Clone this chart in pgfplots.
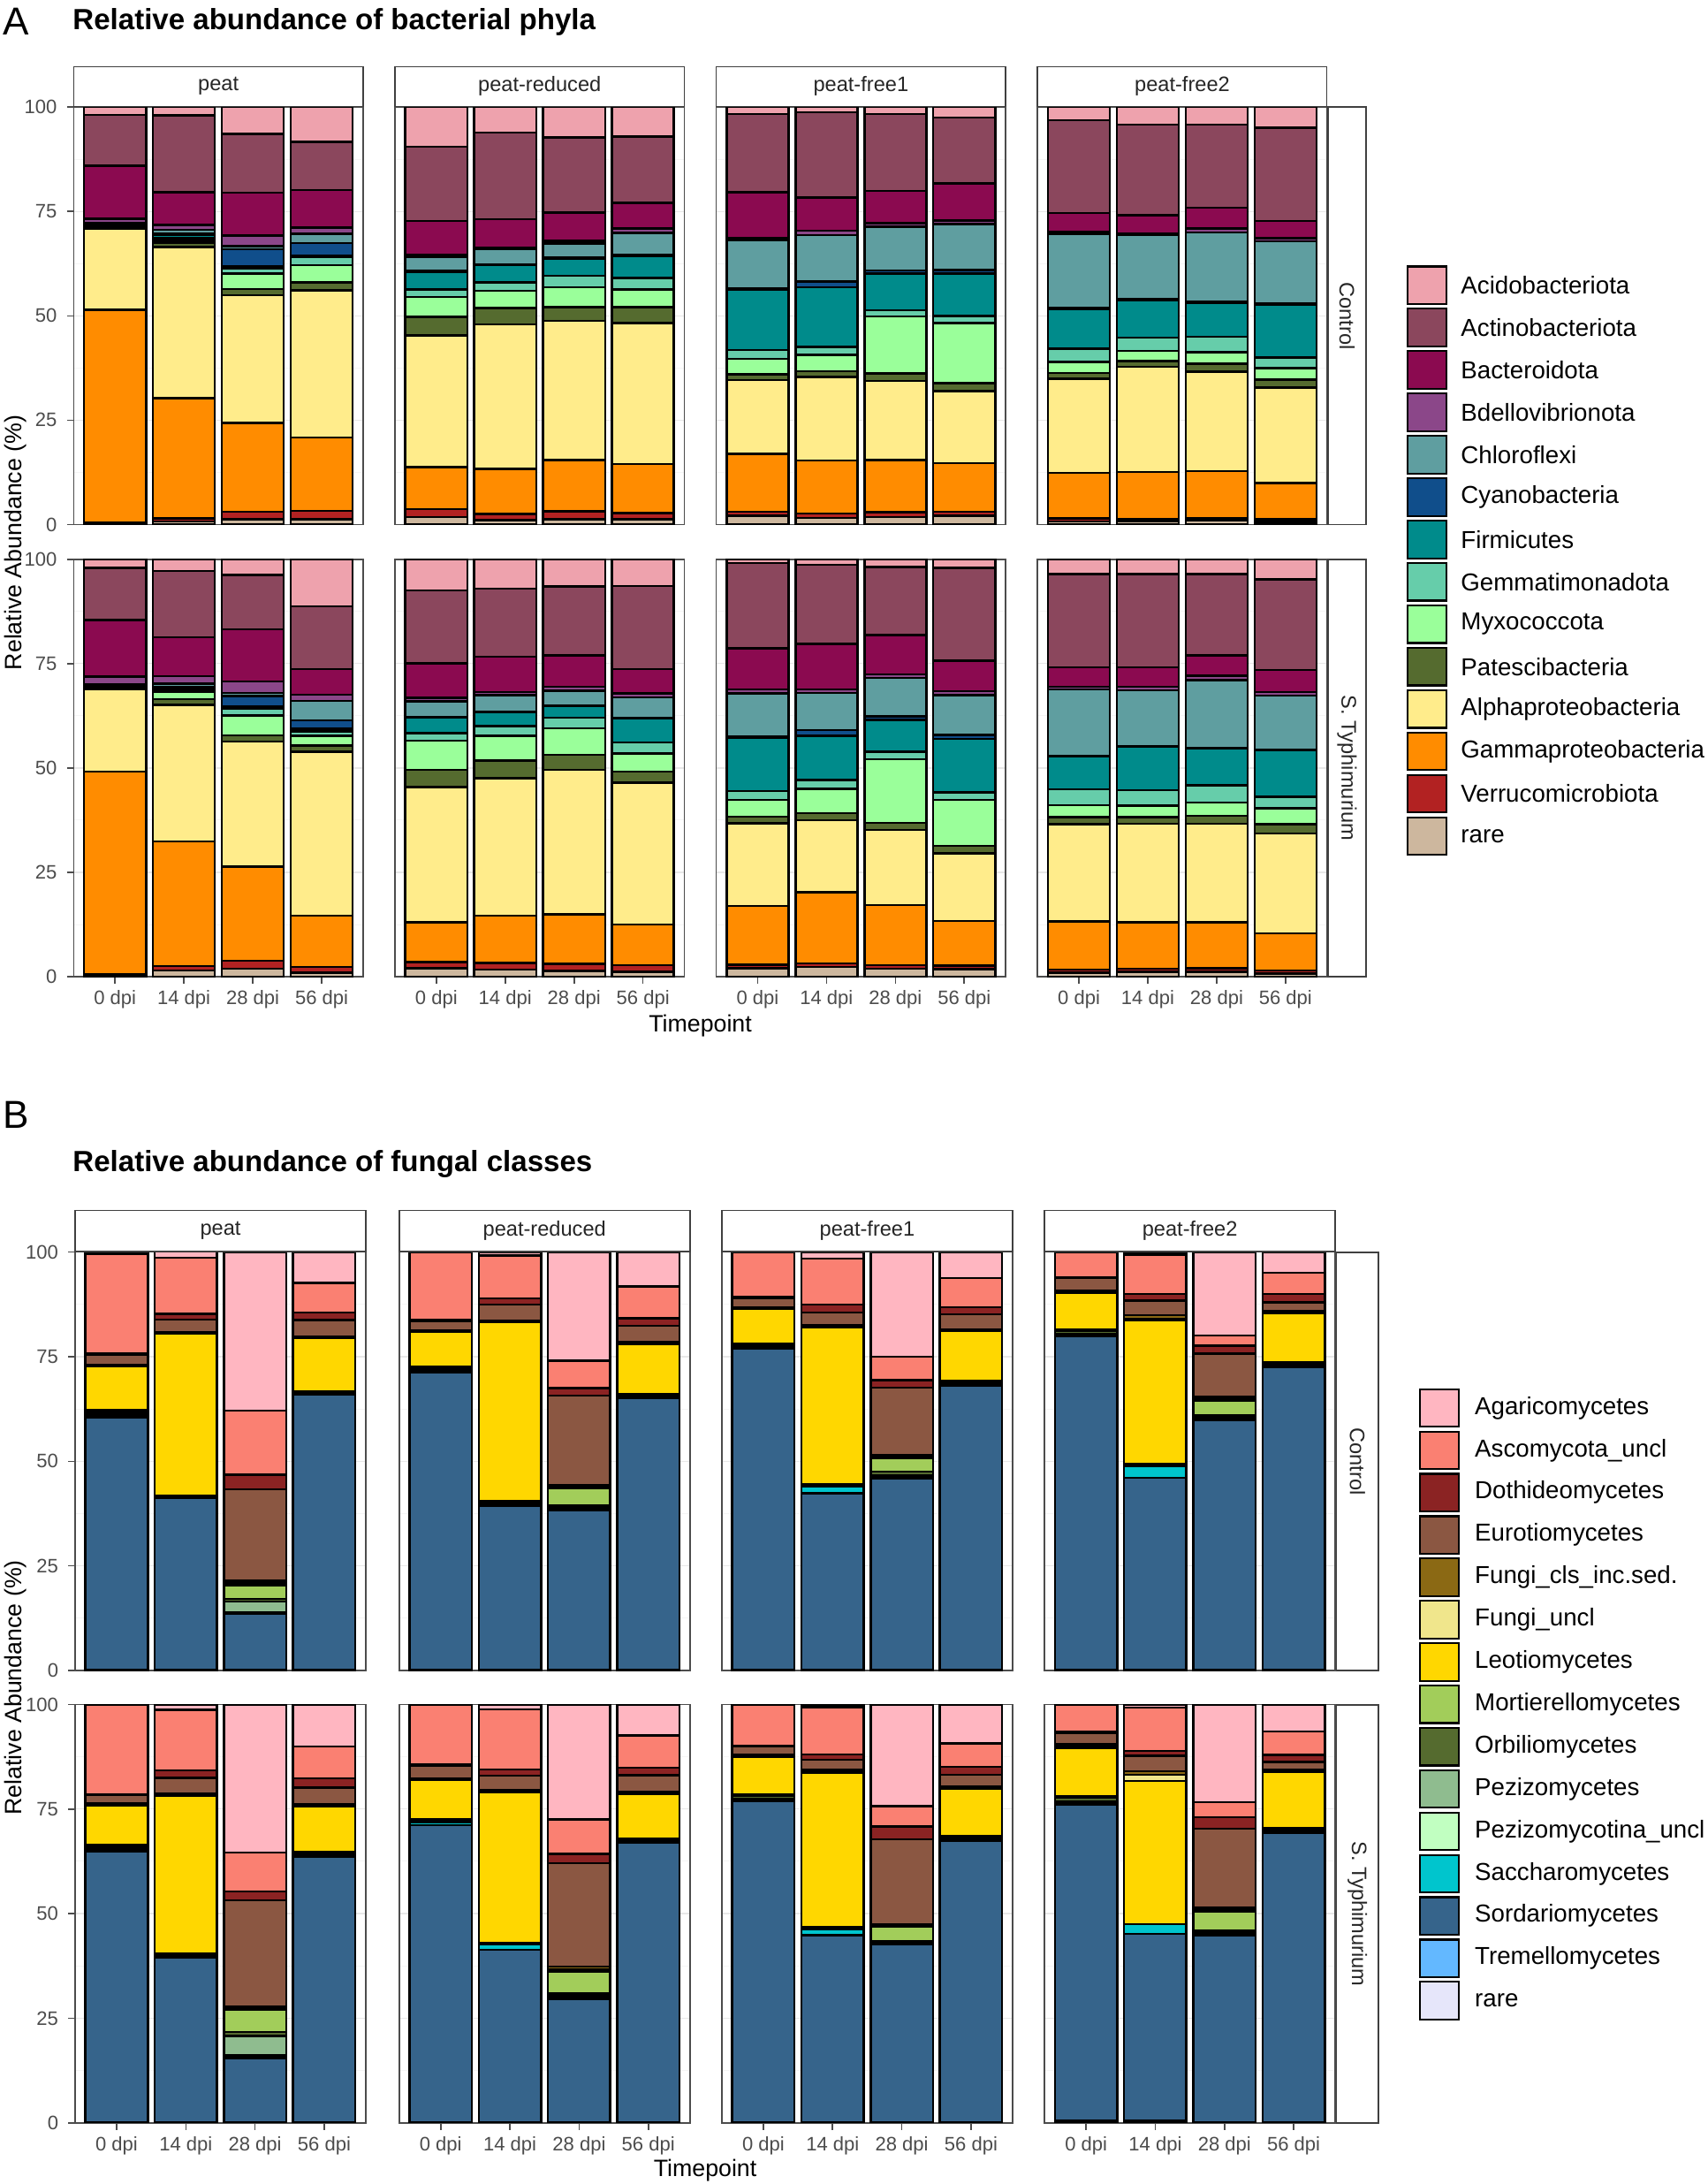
\documentclass[border=0pt]{standalone}
\usepackage{fontspec}
\setmainfont{Liberation Sans}
\usepackage{graphicx}
\usepackage{pgfplots}
\usepackage{pgfplotstable}
\pgfplotsset{compat=1.18}

% bacterial colours
\definecolor{cAci}{HTML}{EEA2AD}
\definecolor{cAct}{HTML}{8B475D}
\definecolor{cBac}{HTML}{8B0A50}
\definecolor{cBde}{HTML}{8B4789}
\definecolor{cChl}{HTML}{5F9EA0}
\definecolor{cCya}{HTML}{104E8B}
\definecolor{cFir}{HTML}{008B8B}
\definecolor{cGem}{HTML}{66CDAA}
\definecolor{cMyx}{HTML}{9AFF9A}
\definecolor{cPat}{HTML}{556B2F}
\definecolor{cAlp}{HTML}{FFEC8B}
\definecolor{cGam}{HTML}{FF8C00}
\definecolor{cVer}{HTML}{B22222}
\definecolor{cRar}{HTML}{CDB79E}
% fungal colours
\definecolor{fAga}{HTML}{FFB6C1}
\definecolor{fAsc}{HTML}{FA8072}
\definecolor{fDot}{HTML}{8B2323}
\definecolor{fEur}{HTML}{8B5742}
\definecolor{fFci}{HTML}{8B6914}
\definecolor{fFun}{HTML}{F0E68C}
\definecolor{fLeo}{HTML}{FFD700}
\definecolor{fMor}{HTML}{A2CD5A}
\definecolor{fOrb}{HTML}{556B2F}
\definecolor{fPez}{HTML}{8FBC8F}
\definecolor{fPzu}{HTML}{C1FFC1}
\definecolor{fSac}{HTML}{00C5CD}
\definecolor{fSor}{HTML}{36648B}
\definecolor{fTre}{HTML}{63B8FF}
\definecolor{fRar}{HTML}{E6E6FA}

\newcommand{\fs}[1]{\fontsize{#1}{#1}\selectfont}

% ---------------- bacterial data (segment heights, %, bottom to top) -------------
\pgfplotstableread{
x rar ver gam alp pat myx gem fir cya chl bde bac act aci
0 0.3 0.2 51.0 19.3 0.3 0.2 0.2 0.3 0.2 0.3 1.0 12.7 12.1 1.9
1 0.7 0.8 28.8 36.2 1.0 0.7 0.5 0.6 0.4 0.9 1.2 7.8 18.4 2.0
2 1.3 1.8 21.2 30.6 1.5 3.7 1.3 0.4 4.2 0.7 2.5 10.3 14.1 6.4
3 1.3 2.0 17.5 35.3 1.9 4.1 2.1 0.3 2.9 2.3 1.4 9.0 11.6 8.3
}\tAPC
\pgfplotstableread{
x rar ver gam alp pat myx gem fir cya chl bde bac act aci
0 1.8 1.9 10.1 31.5 4.5 4.7 1.8 4.2 0.3 3.3 0.5 8.1 17.8 9.5
1 1.0 1.5 10.8 34.7 3.9 4.1 2.0 4.1 0.3 3.6 0.4 6.8 20.7 6.1
2 1.3 1.9 12.2 33.4 3.3 4.7 2.8 4.1 0.3 3.3 0.7 6.7 18.0 7.3
3 1.3 1.4 11.8 33.8 3.8 4.2 2.8 5.3 0.3 5.2 1.0 6.2 15.8 7.1
}\tARC
\pgfplotstableread{
x rar ver gam alp pat myx gem fir cya chl bde bac act aci
0 2.1 1.0 13.8 17.7 1.4 3.7 2.1 14.5 0.3 11.5 0.5 11.0 18.7 1.7
1 1.6 1.0 12.7 20.0 1.4 4.0 1.8 14.3 1.4 11.1 1.1 7.9 20.5 1.2
2 1.8 1.2 12.4 19.0 1.8 13.7 1.4 8.8 0.8 10.5 0.8 7.7 18.4 1.7
3 2.1 1.0 11.6 17.3 1.9 14.4 1.7 10.1 0.9 11.0 0.8 8.9 15.8 2.5
}\tAFaC
\pgfplotstableread{
x rar ver gam alp pat myx gem fir cya chl bde bac act aci
0 0.7 0.8 10.9 22.5 1.4 2.7 3.1 9.6 0.3 17.7 0.5 4.4 22.3 3.1
1 0.7 0.6 11.3 25.2 1.4 2.4 3.2 9.0 0.2 15.3 0.5 4.3 21.7 4.2
2 0.9 0.6 11.3 23.8 1.9 2.8 3.7 8.1 0.2 16.7 0.9 5.0 19.9 4.2
3 0.6 0.7 8.6 22.9 1.9 2.8 2.5 12.7 0.2 15.0 0.7 4.1 22.4 4.9
}\tAFbC
\pgfplotstableread{
x rar ver gam alp pat myx gem fir cya chl bde bac act aci
0 0.3 0.2 48.6 19.8 0.3 0.2 0.2 0.2 0.1 0.2 1.8 13.5 12.5 2.1
1 1.5 1.0 29.9 32.7 1.4 1.7 0.4 0.5 0.4 0.7 1.8 9.3 15.9 2.8
2 1.9 1.9 22.6 29.9 1.5 4.8 1.6 0.5 2.5 0.8 2.7 12.5 13.1 3.7
3 1.0 1.3 12.3 39.3 1.5 2.3 1.1 0.6 2.0 4.7 1.5 6.1 15.0 11.3
}\tAPS
\pgfplotstableread{
x rar ver gam alp pat myx gem fir cya chl bde bac act aci
0 2.0 1.5 9.5 32.4 4.2 6.9 1.9 3.7 0.2 3.7 0.8 8.3 17.4 7.5
1 1.7 1.6 11.3 32.9 4.3 5.9 2.3 3.3 0.2 3.9 0.8 8.5 16.3 7.0
2 1.4 1.7 11.8 34.7 3.6 6.3 2.6 2.7 0.2 3.5 1.0 7.5 16.5 6.5
3 1.2 1.6 9.7 34.0 2.6 4.4 2.6 5.7 0.2 4.9 1.0 5.8 19.9 6.4
}\tARS
\pgfplotstableread{
x rar ver gam alp pat myx gem fir cya chl bde bac act aci
0 2.0 0.9 14.0 19.9 1.5 4.1 2.1 12.7 0.3 10.4 0.9 9.9 20.4 0.9
1 2.3 0.9 17.0 17.3 1.7 5.8 2.1 10.6 1.4 8.9 0.8 10.9 19.0 1.3
2 1.9 0.9 14.4 18.0 1.7 15.2 1.8 7.6 0.9 9.2 0.8 9.4 16.4 1.8
3 1.8 0.9 10.6 16.3 1.7 11.1 1.8 12.8 0.9 9.6 0.9 7.3 22.3 2.0
}\tAFaS
\pgfplotstableread{
x rar ver gam alp pat myx gem fir cya chl bde bac act aci
0 1.0 0.7 11.5 23.3 1.7 2.9 3.8 7.8 0.2 15.9 0.7 4.6 22.4 3.5
1 1.2 0.7 11.1 23.6 1.6 2.8 3.7 10.4 0.2 13.3 0.9 4.6 22.4 3.5
2 1.2 0.8 11.0 23.6 1.9 3.2 4.2 8.8 0.2 16.2 1.0 4.9 19.5 3.5
3 0.7 0.8 8.9 23.9 2.2 3.8 2.8 11.1 0.2 12.9 0.9 5.3 21.7 4.8
}\tAFbS

% ---------------- fungal data (segment heights, %, bottom to top) -------------
\pgfplotstableread{
x rar tre sor sac pzu pez orb mor leo fun fci eur dot asc aga
0 0.1 0.1 60.2 0.2 0.3 0.3 0.6 0.5 10.4 0.1 0.2 2.4 0.3 23.9 0.4
1 0.1 0.1 41.0 0.2 0.1 0.1 0.1 0.1 38.7 0.1 0.2 3.1 1.4 13.4 1.4
2 0.1 0.1 13.3 0.2 0.3 2.5 0.6 3.2 0.5 0.3 0.5 21.7 3.5 15.3 37.9
3 0.1 0.1 65.8 0.2 0.2 0.1 0.2 0.1 12.6 0.1 0.3 4.0 1.8 7.0 7.4
}\tBPC
\pgfplotstableread{
x rar tre sor sac pzu pez orb mor leo fun fci eur dot asc aga
0 0.1 0.1 71.1 0.3 0.2 0.2 0.4 0.3 8.3 0.1 0.2 2.3 0.2 16.1 0.1
1 0.1 0.1 39.1 0.5 0.2 0.2 0.2 0.1 42.7 0.2 0.3 3.8 1.4 10.3 0.8
2 0.1 0.1 38.0 0.2 0.3 0.4 0.4 4.0 0.3 0.2 0.4 21.3 1.8 6.6 25.9
3 0.1 0.1 64.9 0.2 0.2 0.2 0.2 0.2 11.9 0.2 0.4 3.8 1.8 7.6 8.2
}\tBRC
\pgfplotstableread{
x rar tre sor sac pzu pez orb mor leo fun fci eur dot asc aga
0 0.1 0.1 76.7 0.2 0.2 0.2 0.6 0.1 8.3 0.1 0.2 2.3 0.3 10.6 0.0
1 0.1 0.1 42.2 1.6 0.1 0.2 0.1 0.1 37.5 0.2 0.3 3.1 1.9 11.0 1.5
2 0.1 0.1 45.7 0.1 0.6 0.1 0.8 3.2 0.3 0.2 0.3 16.1 1.8 5.6 25.0
3 0.1 0.1 67.8 0.3 0.2 0.2 0.3 0.2 11.9 0.2 0.3 3.5 1.7 7.0 6.2
}\tBFaC
\pgfplotstableread{
x rar tre sor sac pzu pez orb mor leo fun fci eur dot asc aga
0 0.1 0.1 79.7 0.2 0.2 0.2 0.7 0.2 8.9 0.1 0.3 3.1 0.2 6.0 0.0
1 0.1 0.1 45.9 2.8 0.2 0.1 0.2 0.0 34.3 0.4 0.8 3.5 1.6 9.4 0.6
2 0.1 0.1 59.7 0.3 0.3 0.2 0.4 3.5 0.3 0.2 0.4 10.3 1.8 2.5 19.9
3 0.1 0.1 72.3 0.3 0.2 0.2 0.3 0.2 11.7 0.2 0.4 2.0 2.0 5.1 4.9
}\tBFbC
\pgfplotstableread{
x rar tre sor sac pzu pez orb mor leo fun fci eur dot asc aga
0 0.1 0.1 64.7 0.2 0.2 0.2 0.7 0.2 9.5 0.1 0.3 2.0 0.2 21.4 0.1
1 0.1 0.1 39.4 0.2 0.2 0.2 0.1 0.1 37.8 0.2 0.4 3.6 1.8 14.5 1.3
2 0.1 0.1 15.3 0.3 0.3 4.7 0.9 5.3 0.3 0.2 0.3 25.4 2.1 9.3 35.4
3 0.1 0.1 63.3 0.3 0.3 0.2 0.2 0.2 11.0 0.1 0.3 4.0 2.2 7.7 10.0
}\tBPS
\pgfplotstableread{
x rar tre sor sac pzu pez orb mor leo fun fci eur dot asc aga
0 0.1 0.1 70.9 0.7 0.2 0.2 0.2 0.1 9.5 0.1 0.2 3.1 0.2 14.4 0.0
1 0.1 0.1 41.2 1.2 0.2 0.1 0.1 0.1 35.9 0.2 0.3 3.5 1.5 14.3 1.2
2 0.1 0.1 29.4 0.3 0.4 0.3 0.4 5.1 0.3 0.2 0.7 24.8 2.2 8.2 27.5
3 0.1 0.1 66.8 0.3 0.2 0.2 0.2 0.1 10.7 0.1 0.3 4.0 1.8 7.7 7.4
}\tBRS
\pgfplotstableread{
x rar tre sor sac pzu pez orb mor leo fun fci eur dot asc aga
0 0.1 0.1 76.7 0.2 0.2 0.2 0.7 0.2 9.1 0.1 0.3 2.1 0.2 9.8 0.0
1 0.1 0.1 44.7 1.4 0.1 0.1 0.1 0.1 37.0 0.2 0.5 2.4 1.2 11.3 0.7
2 0.1 0.1 42.4 0.3 0.3 0.1 0.2 3.5 0.2 0.1 0.2 20.3 3.0 4.9 24.3
3 0.1 0.1 67.1 0.3 0.3 0.2 0.2 0.2 11.4 0.1 0.3 2.9 1.9 5.6 9.3
}\tBFaS
\pgfplotstableread{
x rar tre sor sac pzu pez orb mor leo fun fci eur dot asc aga
0 0.5 0.1 75.5 0.2 0.2 0.2 1.1 0.2 11.6 0.2 0.7 2.7 0.2 6.5 0.1
1 0.5 0.1 44.6 2.3 0.0 0.0 0.0 0.0 34.2 1.5 0.8 3.7 1.2 10.3 0.8
2 0.1 0.1 44.7 0.3 0.2 0.2 0.4 4.4 0.4 0.2 0.4 18.9 2.8 3.5 23.4
3 0.1 0.1 69.2 0.3 0.2 0.2 0.2 0.2 13.3 0.2 0.3 2.0 1.6 5.6 6.5
}\tBFbS

\newcommand{\bac}[1]{%
\addplot[fill=cRar] table[x=x,y=rar]{#1};
\addplot[fill=cVer] table[x=x,y=ver]{#1};
\addplot[fill=cGam] table[x=x,y=gam]{#1};
\addplot[fill=cAlp] table[x=x,y=alp]{#1};
\addplot[fill=cPat] table[x=x,y=pat]{#1};
\addplot[fill=cMyx] table[x=x,y=myx]{#1};
\addplot[fill=cGem] table[x=x,y=gem]{#1};
\addplot[fill=cFir] table[x=x,y=fir]{#1};
\addplot[fill=cCya] table[x=x,y=cya]{#1};
\addplot[fill=cChl] table[x=x,y=chl]{#1};
\addplot[fill=cBde] table[x=x,y=bde]{#1};
\addplot[fill=cBac] table[x=x,y=bac]{#1};
\addplot[fill=cAct] table[x=x,y=act]{#1};
\addplot[fill=cAci] table[x=x,y=aci]{#1};
}
\newcommand{\fun}[1]{%
\addplot[fill=fRar] table[x=x,y=rar]{#1};
\addplot[fill=fTre] table[x=x,y=tre]{#1};
\addplot[fill=fSor] table[x=x,y=sor]{#1};
\addplot[fill=fSac] table[x=x,y=sac]{#1};
\addplot[fill=fPzu] table[x=x,y=pzu]{#1};
\addplot[fill=fPez] table[x=x,y=pez]{#1};
\addplot[fill=fOrb] table[x=x,y=orb]{#1};
\addplot[fill=fMor] table[x=x,y=mor]{#1};
\addplot[fill=fLeo] table[x=x,y=leo]{#1};
\addplot[fill=fFun] table[x=x,y=fun]{#1};
\addplot[fill=fFci] table[x=x,y=fci]{#1};
\addplot[fill=fEur] table[x=x,y=eur]{#1};
\addplot[fill=fDot] table[x=x,y=dot]{#1};
\addplot[fill=fAsc] table[x=x,y=asc]{#1};
\addplot[fill=fAga] table[x=x,y=aga]{#1};
}

\pgfplotsset{
  facet/.style={
    anchor=south west, scale only axis,
    xmin=-0.6, xmax=3.6, ymin=0, ymax=100,
    ybar stacked, bar width=0.9,
    xtick={0,1,2,3}, ytick={0,25,50,75,100},
    minor ytick={12.5,37.5,62.5,87.5},
    ymajorgrids, yminorgrids,
    major grid style={draw=black!9, line width=0.4pt},
    minor grid style={draw=black!4, line width=0.3pt},
    axis line style={draw=black!70, line width=0.5pt},
    tick align=outside, major tick length=2.5pt, minor tick length=0pt,
    xtick pos=bottom, ytick pos=left,
    xticklabels={}, yticklabels={},
    xtick style={draw=none}, ytick style={draw=none},
    xticklabel style={font=\fs{7}, text=black!70, yshift=1pt},
    yticklabel style={font=\fs{7}, text=black!70},
    every axis plot/.append style={draw=black, line width=0.8pt},
  },
  ylab/.style={yticklabels={0,25,50,75,100}, ytick style={draw=black!70, line width=0.5pt}},
  xlab/.style={xticklabels={0 dpi,14 dpi,28 dpi,56 dpi}, xtick style={draw=black!70, line width=0.5pt}},
  fa/.style={facet, width=104pt, height=150pt},
  fb/.style={facet, width=104.5pt, height=150.35pt},
}

\begin{document}
\begin{tikzpicture}
\useasboundingbox (0,0) rectangle (614pt,-784.9pt);

% ================= Panel A =================
\begin{axis}[fa, at={(26.5pt,-188.5pt)}, ylab] \bac{\tAPC} \end{axis}
\begin{axis}[fa, at={(142pt,-188.5pt)}] \bac{\tARC} \end{axis}
\begin{axis}[fa, at={(257.5pt,-188.5pt)}] \bac{\tAFaC} \end{axis}
\begin{axis}[fa, at={(373pt,-188.5pt)}] \bac{\tAFbC} \end{axis}
\begin{axis}[fa, at={(26.5pt,-351pt)}, ylab, xlab] \bac{\tAPS} \end{axis}
\begin{axis}[fa, at={(142pt,-351pt)}, xlab] \bac{\tARS} \end{axis}
\begin{axis}[fa, at={(257.5pt,-351pt)}, xlab] \bac{\tAFaS} \end{axis}
\begin{axis}[fa, at={(373pt,-351pt)}, xlab] \bac{\tAFbS} \end{axis}

% ================= Panel B =================
\begin{axis}[fb, at={(27pt,-600.35pt)}, ylab] \fun{\tBPC} \end{axis}
\begin{axis}[fb, at={(143.5pt,-600.35pt)}] \fun{\tBRC} \end{axis}
\begin{axis}[fb, at={(259.5pt,-600.35pt)}] \fun{\tBFaC} \end{axis}
\begin{axis}[fb, at={(375.5pt,-600.35pt)}] \fun{\tBFbC} \end{axis}
\begin{axis}[fb, at={(27pt,-762.9pt)}, ylab, xlab] \fun{\tBPS} \end{axis}
\begin{axis}[fb, at={(143.5pt,-762.9pt)}, xlab] \fun{\tBRS} \end{axis}
\begin{axis}[fb, at={(259.5pt,-762.9pt)}, xlab] \fun{\tBFaS} \end{axis}
\begin{axis}[fb, at={(375.5pt,-762.9pt)}, xlab] \fun{\tBFbS} \end{axis}

\begin{scope}[x=0.5pt,y=-0.5pt]
  \tikzset{strip/.style={draw=black!75, fill=white, line width=0.5pt},
           stxt/.style={font=\fs{7.5}, text=black!85}}
  % ---- titles
  \node[anchor=base west, font=\fs{14}, inner sep=0] at (2,25) {A};
  \node[anchor=base west, font=\bfseries\fs{10.5}, inner sep=0] at (52,21) {Relative abundance of bacterial phyla};
  \node[anchor=base west, font=\fs{14}, inner sep=0] at (2,811) {B};
  \node[anchor=base west, font=\bfseries\fs{10.5}, inner sep=0] at (52,842) {Relative abundance of fungal classes};

  % ---- strips A
  \foreach \l/\t in {53/peat,284/peat-reduced,515/peat-free1,746/peat-free2}{
    \draw[strip] (\l,48) rectangle ++(208,28.5);
    \node[stxt] at (\l+104,62) {\t};
  }
  \draw[strip] (955,77) rectangle (982,377);
  \node[stxt, rotate=-90] at (968.5,227) {Control};
  \draw[strip] (955,402) rectangle (982,702);
  \node[stxt, rotate=-90] at (968.5,552) {S. Typhimurium};

  % ---- strips B
  \foreach \l/\t in {54/peat,287/peat-reduced,519/peat-free1,751/peat-free2}{
    \draw[strip] (\l,870) rectangle ++(209,29.5);
    \node[stxt] at (\l+104.5,884.5) {\t};
  }
  \draw[strip] (961,900.3) rectangle (991,1200.7);
  \node[stxt, rotate=-90] at (976,1050.5) {Control};
  \draw[strip] (961,1225.4) rectangle (991,1525.8);
  \node[stxt, rotate=-90] at (976,1375.6) {S. Typhimurium};

  % ---- axis titles
  \node[rotate=90, font=\fs{8.5}] at (11,390) {Relative Abundance (\%)};
  \node[font=\fs{8.5}] at (503.5,737) {Timepoint};
  \node[rotate=90, font=\fs{8.5}] at (11,1213) {Relative Abundance (\%)};
  \node[font=\fs{8.5}] at (507,1560) {Timepoint};

  % ---- legend A
  \foreach \c/\t [count=\i from 0] in {cAci/Acidobacteriota,cAct/Actinobacteriota,cBac/Bacteroidota,cBde/Bdellovibrionota,cChl/Chloroflexi,cCya/Cyanobacteria,cFir/Firmicutes,cGem/Gemmatimonadota,cMyx/Myxococcota,cPat/Patescibacteria,cAlp/Alphaproteobacteria,cGam/Gammaproteobacteria,cVer/Verrucomicrobiota,cRar/rare}{
    \draw[fill=\c, draw=black, line width=0.7pt] ({1012},{205+30.46*\i-13.5}) rectangle ++(28,27);
    \node[anchor=west, font=\fs{8.8}, inner sep=0] at ({1050},{205+30.46*\i}) {\t};
  }
  % ---- legend B
  \foreach \c/\t [count=\i from 0] in {fAga/Agaricomycetes,fAsc/Ascomycota\_uncl,fDot/Dothideomycetes,fEur/Eurotiomycetes,fFci/Fungi\_cls\_inc.sed.,fFun/Fungi\_uncl,fLeo/Leotiomycetes,fMor/Mortierellomycetes,fOrb/Orbiliomycetes,fPez/Pezizomycetes,fPzu/Pezizomycotina\_uncl,fSac/Saccharomycetes,fSor/Sordariomycetes,fTre/Tremellomycetes,fRar/rare}{
    \draw[fill=\c, draw=black, line width=0.7pt] ({1021},{1012+30.43*\i-13.5}) rectangle ++(28,27);
    \node[anchor=west, font=\fs{8.8}, inner sep=0] at ({1060},{1012+30.43*\i}) {\t};
  }
\end{scope}
\end{tikzpicture}
\end{document}
